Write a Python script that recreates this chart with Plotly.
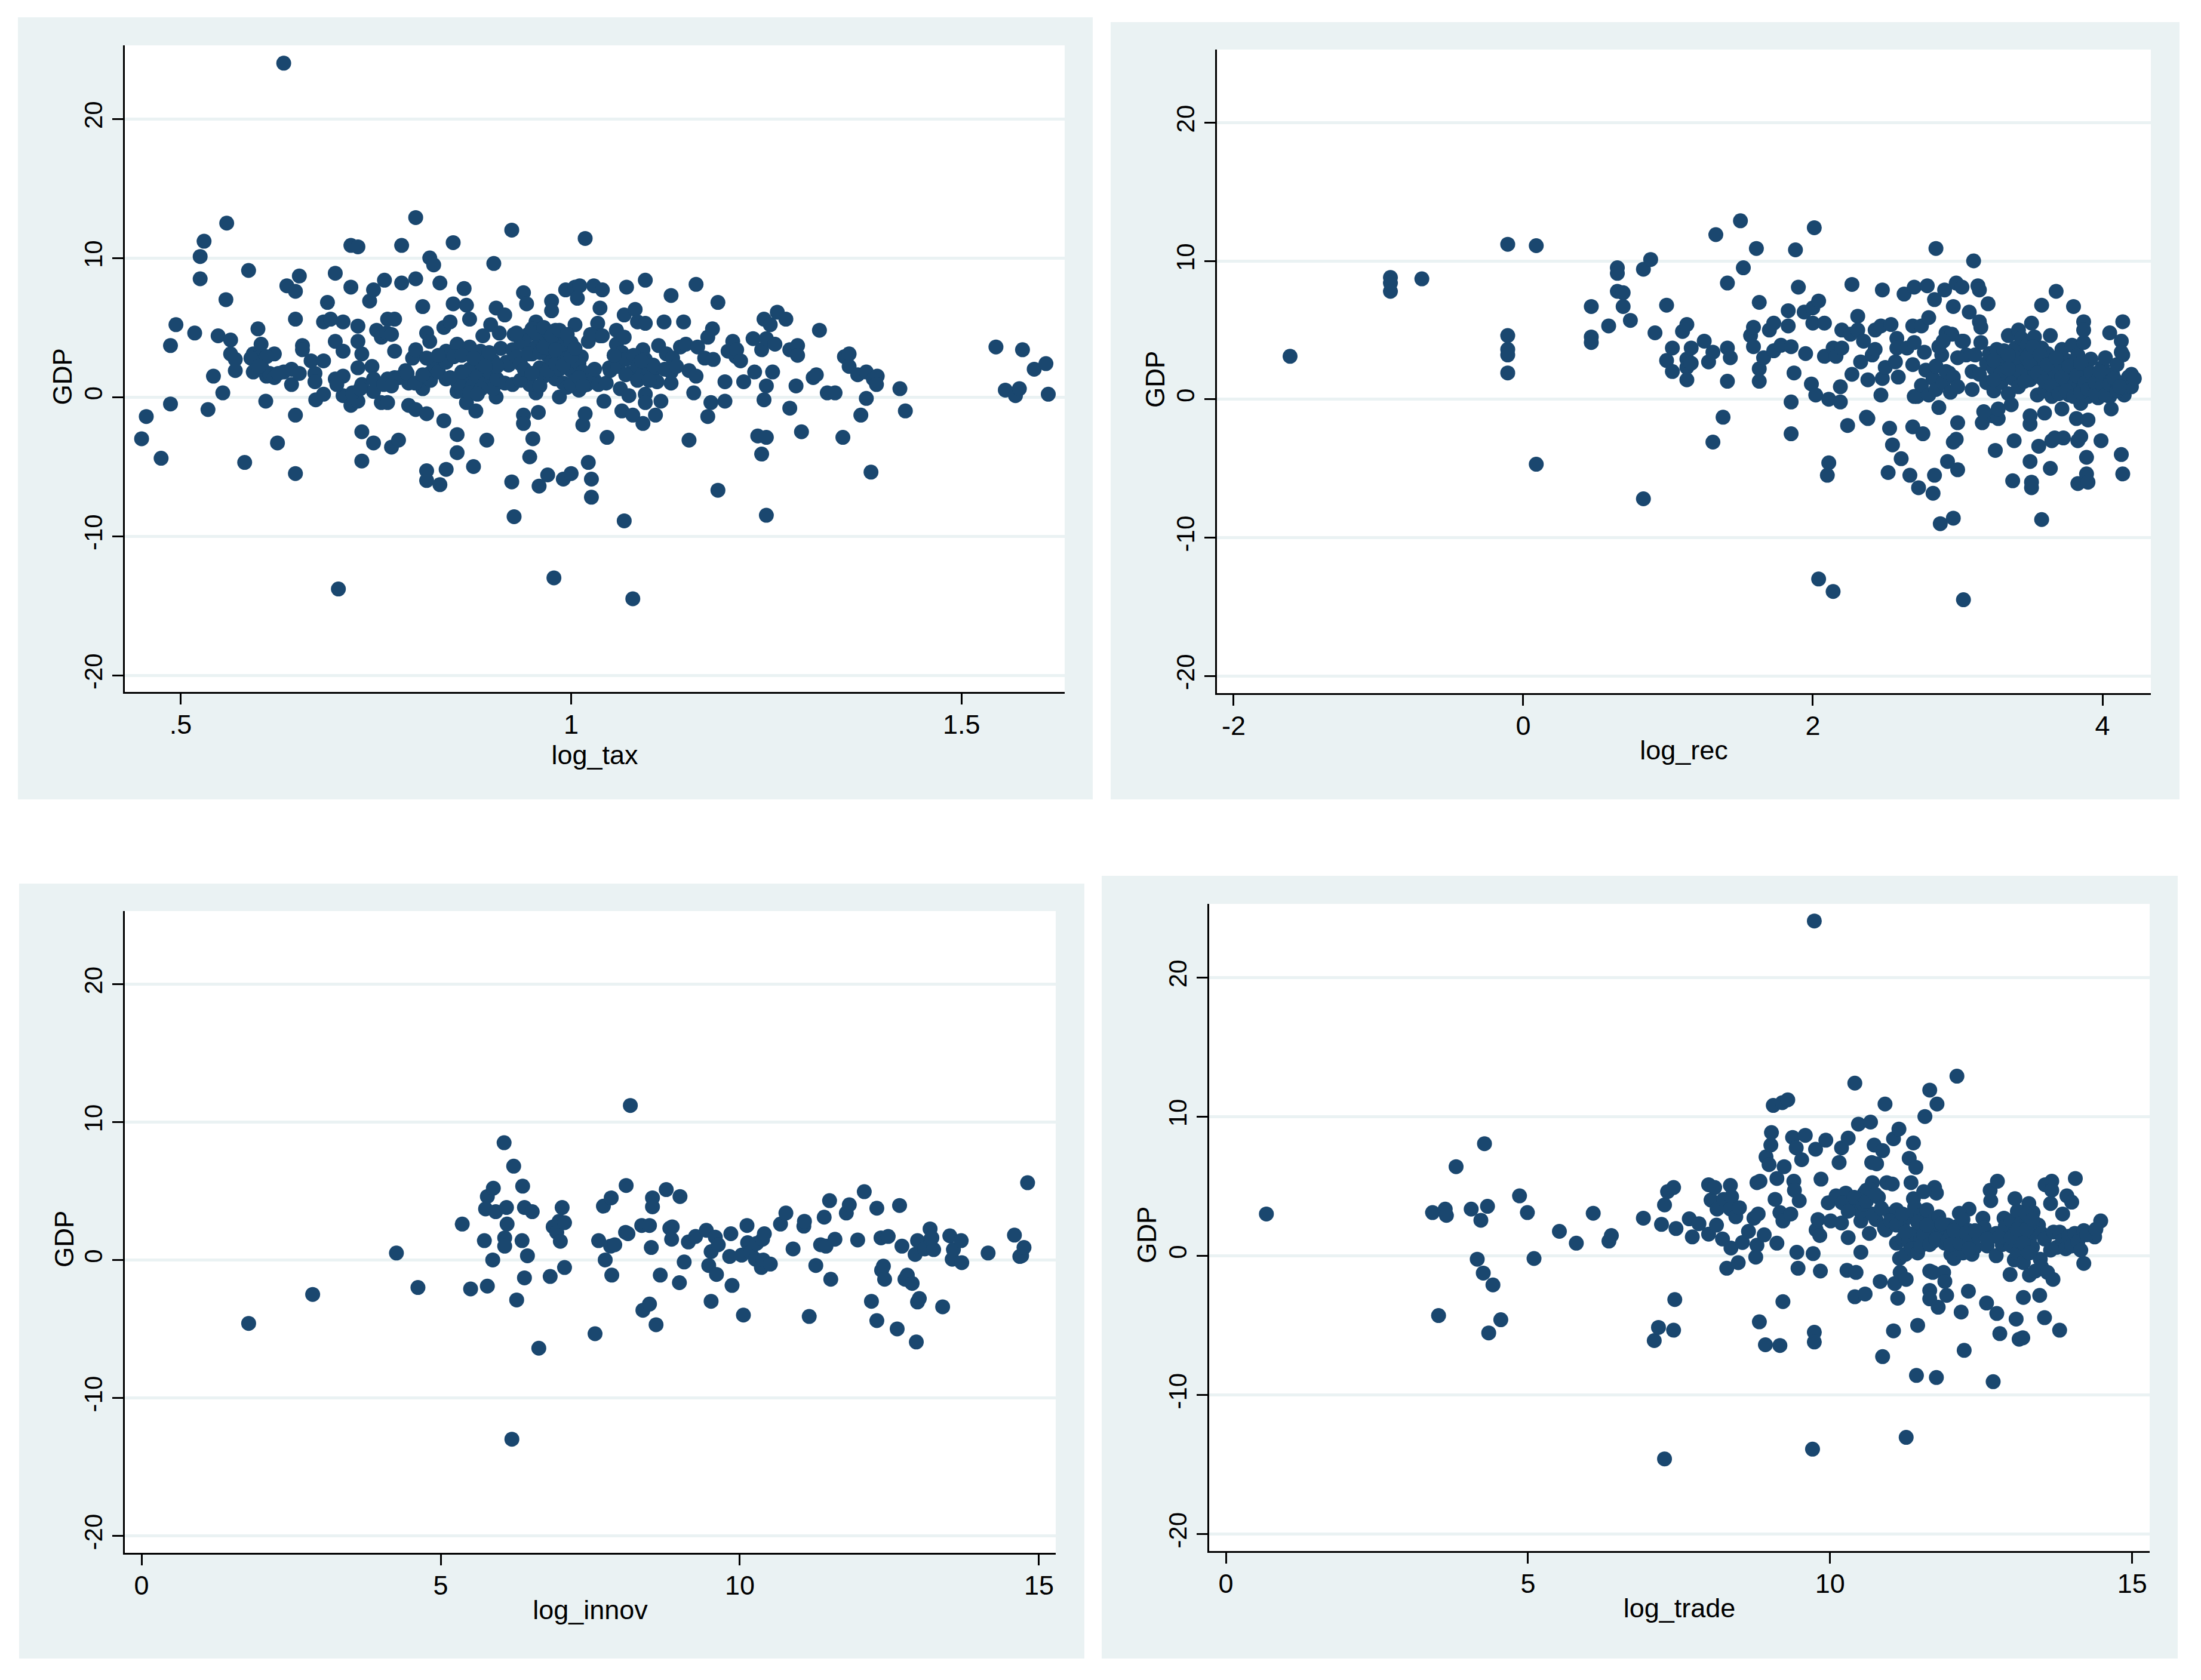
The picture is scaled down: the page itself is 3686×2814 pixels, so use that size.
import plotly.graph_objects as go

# ---------- data ----------
log_tax_pts = [(.45,-3.0),(.456,-1.4),(.475,-4.4),(.487,-.5),(.487,3.7),(.494,5.2),(.518,4.6),(.525,8.5),(.525,10.1),(.53,11.2),(.535,-.9),(.542,1.5),(.548,4.4),(.554,.3),(.558,7.0),(.559,12.5),(.564,4.1),(.564,3.1),(.57,2.7),(.57,1.9),(.582,-4.7),(.587,9.1),(.593,1.8),(.593,3.1),(.599,4.9),(.603,3.8),(.603,2.9),(.604,2.1),(.61,1.5),(.609,-.3),(.614,1.7),(.62,3.1),(.624,-3.3),(.632,1.8),(.632,24.0),(.636,8.0),(.642,2.0),(.642,.9),(.647,7.6),(.647,5.6),(.647,-1.3),(.647,-5.5),(.652,8.7),(.652,1.7),(.656,3.7),(.656,3.4),(.667,2.6),(.672,1.7),(.672,1.1),(.673,-.2),(.683,.2),(.683,2.6),(.683,5.4),(.688,6.8),(.692,5.6),(.698,8.9),(.698,4.0),(.698,1.3),(.702,-13.8),(.708,5.4),(.708,3.3),(.708,1.5),(.708,.1),(.718,10.9),(.727,10.8),(.718,7.9),(.718,-.6),(.727,5.1),(.727,4.0),(.727,2.1),(.727,-.3),(.732,3.1),(.732,-2.5),(.732,-4.6),(.732,.9),(.742,6.9),(.747,7.7),(.745,2.2),(.747,1.3),(.747,.4),(.747,-3.3),(.751,4.8),(.757,4.3),(.757,-.4),(.761,8.4),(.764,4.6),(.765,5.6),(.765,1.3),(.765,-.4),(.77,-3.6),(.77,4.5),(.774,5.6),(.774,3.3),(.774,1.4),(.779,-3.1),(.783,10.9),(.783,8.2),(.788,1.9),(.792,-.6),(.792,1.0),(.797,2.8),(.801,12.9),(.801,8.5),(.801,-.9),(.801,3.4),(.81,6.5),(.81,.6),(.815,-1.2),(.815,4.6),(.815,-5.3),(.815,-6.0),(.819,10.0),(.819,4.0),(.819,1.7),(.824,9.5),(.824,2.4),(.832,8.2),(.832,-6.3),(.837,-1.7),(.837,5.0),(.84,-5.2),(.84,1.3),(.845,5.4),(.84,3.3),(.849,11.1),(.849,6.7),(.854,-2.7),(.854,-4.0),(.854,3.8),(.854,.4),(.863,7.8),(.866,6.6),(.866,-.4),(.87,5.6),(.87,3.6),(.875,-5.0),(.878,-1.0),(.884,3.3),(.887,4.4),(.892,-3.1),(.887,1.3),(.897,5.2),(.901,9.6),(.904,6.4),(.904,0.0),(.908,4.6),(.908,1.1),(.915,5.9),(.924,12.0),(.924,-6.1),(.927,-8.6),(.927,4.5),(.917,2.5),(.936,4.0),(.939,7.5),(.943,6.7),(.939,-1.3),(.939,-1.9),(.947,-4.3),(.951,-3.0),(.955,5.4),(.955,.3),(.958,-1.1),(.959,-6.4),(.947,.9),(.97,-5.6),(.975,6.9),(.975,6.2),(.967,4.0),(.978,-13.0),(.985,4.0),(.985,0),(.99,-5.9),(.993,7.7),(1.0,-5.5),(1.005,7.9),(1.005,5.2),(1.011,8.0),(1.008,7.1),(1.013,2.9),(1.015,-2.0),(1.018,11.4),(1.018,-1.2),(1.022,-4.7),(1.026,-5.9),(1.026,-7.2),(1.022,4.0),(1.029,8.0),(1.034,5.3),(1.037,6.4),(1.04,7.7),(1.037,4.4),(1.042,-.3),(1.046,-2.9),(1.049,2.1),(1.058,4.8),(1.058,3.8),(1.063,.6),(1.065,-1.0),(1.068,-8.9),(1.068,5.9),(1.071,7.9),(1.068,4.3),(1.074,.1),(1.079,-1.3),(1.079,-14.5),(1.082,6.3),(1.085,5.4),(1.092,-1.9),(1.092,3.4),(1.095,8.4),(1.095,5.3),(1.095,.2),(1.095,-.4),(1.104,1.7),(1.108,-1.3),(1.112,3.7),(1.115,-.3),(1.119,5.4),(1.122,3.1),(1.128,7.3),(1.128,1.0),(1.128,1.8),(1.14,3.6),(1.144,5.4),(1.147,3.8),(1.151,-3.1),(1.151,1.9),(1.157,.3),(1.16,8.1),(1.16,1.5),(1.162,3.6),(1.171,2.8),(1.175,4.3),(1.175,-1.4),(1.179,-.4),(1.181,4.9),(1.182,2.7),(1.188,6.8),(1.188,-6.7),(1.197,1.1),(1.197,-.3),(1.201,3.3),(1.207,4.0),(1.211,2.9),(1.212,3.4),(1.217,2.6),(1.221,1.1),(1.233,4.2),(1.235,1.8),(1.239,-2.8),(1.244,-4.1),(1.244,3.4),(1.247,5.6),(1.247,-.2),(1.25,-2.9),(1.25,-8.5),(1.25,.8),(1.25,4.2),(1.255,5.2),(1.258,1.8),(1.261,3.8),(1.264,6.1),(1.275,5.6),(1.28,-.8),(1.28,3.4),(1.288,.8),(1.29,3.7),(1.29,3.0),(1.295,-2.5),(1.31,1.4),(1.314,1.6),(1.318,4.8),(1.328,.3),(1.338,.3),(1.348,-2.9),(1.35,2.9),(1.356,3.1),(1.356,2.2),(1.367,1.6),(1.371,-1.3),(1.378,1.8),(1.378,-.1),(1.384,-5.4),(1.387,1.3),(1.392,1.5),(1.391,.9),(1.421,.6),(1.428,-1.0),(1.544,3.6),(1.556,.5),(1.569,.1),(1.574,.6),(1.578,3.4),(1.593,2.0),(1.608,2.4),(1.611,.2),
(.86,.5),(.865,1.2),(.87,2.0),(.875,.9),(.88,1.5),(.885,2.4),(.89,1.0),(.895,1.8),(.9,.6),(.9,2.6),(.905,1.3),(.91,3.5),(.915,1.0),(.92,2.3),(.925,3.4),(.93,2.9),(.935,2.4),(.94,3.8),(.945,4.5),(.95,3.1),(.95,4.9),(.955,3.6),(.96,4.2),(.96,2.1),(.965,1.5),(.97,3.0),(.97,4.7),(.975,2.5),(.975,3.9),(.98,1.3),(.98,4.8),(.985,3.2),(.985,2.0),(.99,1.0),(.99,3.6),(.995,2.8),(.995,.7),(1.0,3.9),(1.0,1.9),(1.005,1.2),(1.01,.5),(1.01,2.4),(1.015,1.8),(1.02,.9),(1.025,4.5),(1.03,1.2),(1.035,.9),(1.04,4.4),(1.045,1.0),(1.05,1.9),(1.06,2.2),(1.065,3.2),(1.07,2.7),(1.075,1.7),(1.08,3.0),(1.085,2.2),(1.09,1.5),(1.095,2.7),(1.1,1.9),(1.105,2.3),(1.11,1.1),(.82,1.2),(.83,1.8),(.84,2.5),(.85,2.9),(.855,1.0),(.86,3.0),(.87,.3),(.78,1.4),(.79,1.7),(.8,1.0),(.81,1.6),(.76,.9),(.7,.9),(.72,.3),(.73,.6),(.77,.8),(.62,1.4),(.6,2.6),(.61,2.9),(.625,1.7),(.59,2.8),(.6,2.2),
(.93,4.6),(.925,.9),(.935,1.2),(.94,2.0),(.945,3.1),(.955,4.6),(.96,3.2),(.965,3.6),(.965,5.0),(.97,1.9),(.975,4.4),(.98,2.4),(.98,3.4),(.985,4.8),(.99,2.3),(.995,4.5),(1.0,2.9),(1.0,.9),(1.005,3.5),(1.01,1.4),(1.015,.8),(1.03,2.0),(1.055,3.0),(1.07,1.6),(1.085,1.2),(1.09,2.6),(1.1,1.2),(.875,2.8),(.885,.6),(.895,3.2),(.905,2.2),(.88,.2),(.89,2.2),(.86,1.8),(.845,1.4),(.83,3.0),(.815,2.8),(.95,1.7),(.96,.8),(1.12,2.0),(1.13,2.8),(1.135,2.2)]

log_rec_pts = [(-1.61,3.1),(-.917,8.8),(-.917,8.4),(-.917,7.8),(-.70,8.7),(-.107,11.2),(-.107,4.6),(-.107,3.6),(-.107,3.2),(-.107,1.9),(.09,11.1),(.09,-4.7),(.47,6.7),(.47,4.5),(.47,4.1),(.59,5.3),(.65,9.5),(.65,9.1),(.65,7.8),(.69,7.7),(.69,6.7),(.74,5.7),(.83,9.4),(.83,-7.2),(.88,10.1),(.91,4.8),(.99,6.8),(.99,2.8),(1.03,3.7),(1.03,2.0),(1.10,4.9),(1.13,5.4),(1.13,2.9),(1.13,2.3),(1.13,1.4),(1.16,3.7),(1.16,2.6),(1.25,4.2),(1.28,2.7),(1.31,3.4),(1.31,-3.1),(1.33,11.9),(1.38,-1.3),(1.41,8.4),(1.41,3.7),(1.41,1.3),(1.43,3.0),(1.50,12.9),(1.52,9.5),(1.57,4.6),(1.59,5.2),(1.59,3.8),(1.61,10.9),(1.63,7.0),(1.63,2.2),(1.63,1.3),(1.66,3.0),(1.70,5.0),(1.73,5.5),(1.73,3.5),(1.78,3.9),(1.83,6.4),(1.83,5.3),(1.85,3.8),(1.85,-.2),(1.85,-2.5),(1.87,1.9),(1.88,10.8),(1.90,8.1),(1.94,6.3),(1.95,3.3),(1.99,1.1),(2.0,6.6),(2.0,5.5),(2.01,12.4),(2.02,.3),(2.04,7.1),(2.04,-13.0),(2.08,5.5),(2.08,3.1),(2.10,-5.5),(2.11,-4.6),(2.11,0),(2.14,-13.9),(2.14,3.7),(2.16,3.1),(2.19,.9),(2.19,-.2),(2.20,5.0),(2.20,3.7),(2.24,-1.9),(2.26,4.7),(2.27,8.3),(2.27,1.8),(2.31,6.0),(2.31,5.0),(2.33,2.7),(2.35,4.2),(2.37,-1.3),(2.38,-1.4),(2.38,1.4),(2.41,3.2),(2.43,3.6),(2.43,5.0),(2.47,5.3),(2.48,7.9),(2.47,.3),(2.48,1.5),(2.5,2.3),(2.53,-2.1),(2.52,-5.3),(2.54,5.4),(2.55,-3.3),(2.57,2.7),(2.58,4.4),(2.58,3.7),(2.59,1.6),(2.61,-4.3),(2.63,7.6),(2.65,3.7),(2.67,-5.5),(2.69,-2.0),(2.69,5.3),(2.69,2.5),(2.70,.2),(2.70,4.1),(2.70,8.1),(2.73,-6.4),(2.75,5.3),(2.76,-2.5),(2.77,3.4),(2.79,8.2),(2.80,5.9),(2.83,-6.8),(2.84,-5.5),(2.84,7.2),(2.85,10.9),(2.87,-.6),(2.88,-9.0),(2.89,3.2),(2.91,7.9),(2.92,4.8),(2.93,-4.5),(2.94,1.9),(2.96,4.7),(2.97,6.7),(2.97,-8.6),(2.97,-3.1),(2.99,-2.9),(2.99,8.4),(3.0,-5.1),(3.0,-1.7),(3.03,8.1),(3.04,4.2),(3.04,-14.5),(3.06,3.2),(3.08,6.3),(3.10,.7),(3.11,10.0),(3.14,8.2),(3.15,7.9),(3.15,5.6),(3.16,5.2),(3.16,4.1),(3.17,-1.7),(3.21,6.9),(3.24,-1.2),(3.26,-3.7),(3.28,-1.4),(3.37,-.4),(3.38,-5.9),(3.39,-3.0),(3.5,-4.5),(3.5,-1.8),(3.51,-6.4),(3.51,-6.0),(3.51,5.5),(3.56,-3.4),(3.58,-8.7),(3.58,6.8),(3.6,-1.0),(3.64,-5.0),(3.64,4.6),(3.65,-3.0),(3.68,7.8),(3.67,-2.8),(3.73,-2.8),(3.80,6.7),(3.82,-1.4),(3.83,-3.0),(3.83,-6.1),(3.85,-2.7),(3.87,5.6),(3.87,5.0),(3.89,-4.2),(3.89,-5.4),(3.90,-6.0),(3.90,-1.5),(3.99,-3.0),(4.05,4.8),(4.06,-.7),(4.13,-4.0),(4.14,5.6),(4.14,-5.4),(4.13,4.2),(4.14,3.2),
(2.72,.2),(2.75,1.0),(2.78,2.1),(2.8,.3),(2.83,1.5),(2.85,.7),(2.85,2.4),(2.87,3.8),(2.9,1.2),(2.9,4.2),(2.92,2.0),(2.95,.5),(2.97,1.6),(3.0,3.0),(3.0,.9),(3.03,4.2),(3.1,2.0),(3.12,3.2),(3.15,1.8),(3.18,-.9),(3.2,2.6),(3.2,1.2),(3.22,3.3),(3.25,.6),(3.25,2.2),(3.27,3.6),(3.28,-.7),(3.3,1.2),(3.3,2.6),(3.32,3.5),(3.33,1.8),(3.35,.4),(3.35,4.6),(3.37,2.9),(3.38,1.5),(3.4,3.7),(3.4,2.2),(3.42,5.0),(3.42,.9),(3.44,4.4),(3.45,3.0),(3.45,1.8),(3.47,2.5),(3.48,3.9),(3.5,1.4),(3.5,3.3),(3.5,-1.2),(3.52,2.2),(3.53,4.5),(3.55,.3),(3.55,2.8),(3.57,1.6),(3.58,3.7),(3.6,.6),(3.6,2.0),(3.62,3.3),(3.62,1.2),(3.65,.2),(3.65,2.6),(3.67,1.7),(3.7,.9),(3.7,2.2),(3.72,-.7),(3.72,3.6),(3.74,1.4),(3.75,2.8),(3.77,.3),(3.77,1.9),(3.79,3.9),(3.8,1.1),(3.8,2.4),(3.82,.6),(3.83,3.2),(3.85,1.6),(3.85,-.3),(3.87,4.1),(3.87,.9),(3.88,2.1),(3.9,.2),(3.9,1.3),(3.92,2.9),(3.93,.7),(3.95,1.8),(3.97,.1),(3.97,1.1),(4.0,2.3),(4.0,.5),(4.02,3.0),(4.03,1.3),(4.05,.2),(4.07,1.8),(4.08,.8),(4.1,2.5),(4.12,1.2),(4.13,3.4),(4.15,.3),(4.15,.9),(4.18,1.6),(4.2,1.8),(4.2,.9),(4.22,1.5),
(3.4,3.0),(3.43,2.0),(3.46,1.3),(3.48,3.0),(3.5,2.6),(3.52,3.8),(3.55,1.9),(3.57,3.2),(3.6,1.3),(3.62,2.5),(3.65,1.0),(3.68,3.0),(3.7,.4),(3.72,1.6),(3.75,.6),(3.77,2.4),(3.8,.2),(3.82,1.7),(3.85,.5),(3.85,2.6),(3.88,1.2),(3.9,.7),(3.92,1.9),(3.95,.4),(3.95,1.2),(3.98,2.0),(4.0,1.0),(4.02,.3),(4.05,1.1),(4.08,1.5),(4.1,.6),(4.12,.9),(3.3,1.9),(3.35,2.2),(3.35,3.2),(3.25,1.4),(3.25,2.8)]

log_innov_pts = [(1.79,-4.6),(2.86,-2.5),(4.26,.5),(4.62,-2.0),(5.36,2.6),(5.5,-2.1),(5.73,1.4),(5.75,3.7),(5.78,4.6),(5.78,-1.9),(5.88,5.2),(5.87,0),(5.92,3.5),(6.06,8.5),(6.07,1.6),(6.07,1.0),(6.1,3.8),(6.11,2.6),(6.19,-13.0),(6.22,6.8),(6.27,-2.9),(6.36,1.4),(6.37,5.35),(6.4,3.8),(6.4,-1.3),(6.45,.3),(6.53,3.5),(6.64,-6.4),(6.83,-1.2),(6.88,2.4),(6.94,2.0),(6.98,2.8),(7.0,1.35),(7.03,3.8),(7.07,2.7),(7.07,-.55),(7.58,-5.35),(7.64,1.4),(7.72,3.9),(7.75,0),(7.84,1.0),(7.85,4.5),(7.86,-1.1),(7.91,1.1),(8.1,5.4),(8.09,2.0),(8.13,1.9),(8.17,11.2),(8.36,2.5),(8.38,-3.65),(8.49,-3.2),(8.49,2.5),(8.52,.9),(8.54,4.5),(8.54,3.85),(8.6,-4.7),(8.67,-1.1),(8.77,5.1),(8.83,2.3),(8.87,2.4),(8.86,1.5),(8.99,-1.65),(9.0,4.6),(9.07,-.15),(9.14,1.3),(9.26,1.7),(9.44,2.15),(9.48,-.4),(9.52,.6),(9.52,-3.0),(9.59,1.65),(9.61,-1.05),(9.64,1.1),(9.83,.25),(9.85,1.9),(9.87,-1.85),(10.03,.35),(10.06,-4.0),(10.12,2.5),(10.13,1.25),(10.18,.55),(10.26,.05),(10.28,1.2),(10.36,-.55),(10.38,1.5),(10.41,1.9),(10.39,0),(10.51,-.3),(10.68,2.6),(10.77,3.4),(10.89,.8),(11.07,2.45),(11.08,2.8),(11.16,-4.1),(11.27,-.4),(11.35,1.1),(11.41,3.1),(11.44,1.0),(11.5,4.3),(11.52,-1.4),(11.59,1.5),(11.78,3.4),(11.83,4.0),(11.97,1.45),(12.08,4.95),(12.2,-3.0),(12.29,-4.4),(12.29,3.75),(12.36,1.6),(12.37,-.75),(12.4,-.45),(12.42,-1.4),(12.48,1.7),(12.63,-5.0),(12.67,3.95),(12.71,1.0),(12.76,-1.4),(12.8,-1.1),(12.88,-1.7),(12.93,.4),(12.95,-5.95),(12.97,1.4),(12.97,-3.05),(13.0,-2.8),(13.09,.8),(13.18,2.25),(13.19,1.5),(13.24,.75),(13.21,1.6),(13.39,-3.4),(13.51,1.75),(13.55,.05),(13.57,.75),(13.7,1.4),(13.71,-.2),(14.15,.5),(14.59,1.8),(14.68,.25),(14.71,.3),(14.75,.9),(14.81,5.6)]

log_trade_pts = [(.67,3.0),(3.42,3.1),(3.52,-4.3),(3.63,3.35),(3.65,2.9),(3.81,6.4),(4.06,3.35),(4.16,-.25),(4.22,2.55),(4.26,-1.25),(4.28,8.05),(4.33,3.55),(4.35,-5.55),(4.42,-2.1),(4.55,-4.6),(4.86,4.3),(4.99,3.1),(5.1,-.2),(5.52,1.75),(5.8,.9),(6.08,3.05),(6.34,1.05),(6.38,1.45),(6.91,2.7),(7.09,-6.1),(7.16,-5.15),(7.21,2.25),(7.26,3.65),(7.26,-14.6),(7.31,4.6),(7.41,4.9),(7.41,-5.35),(7.43,-3.15),(7.45,1.95),(7.67,2.65),(7.72,1.35),(7.83,2.3),(7.99,1.55),(7.99,5.1),(8.03,4.0),(8.09,4.9),(8.13,3.35),(8.12,2.2),(8.22,1.2),(8.24,4.05),(8.29,-.9),(8.35,5.05),(8.35,3.35),(8.36,.55),(8.37,4.25),(8.44,2.8),(8.48,-.5),(8.5,3.45),(8.55,.95),(8.65,1.75),(8.74,2.7),(8.77,-.1),(8.79,5.25),(8.79,.75),(8.81,3.0),(8.83,-4.75),(8.84,5.35),(8.91,1.5),(8.93,-6.4),(8.94,7.1),(8.99,6.55),(9.02,7.95),(9.03,8.85),(9.06,10.8),(9.09,4.05),(9.12,5.55),(9.12,.9),(9.17,-6.45),(9.17,3.1),(9.21,11.0),(9.3,11.2),(9.22,-3.3),(9.22,2.5),(9.24,6.4),(9.35,3.0),(9.38,8.5),(9.4,5.35),(9.41,4.7),(9.44,7.75),(9.47,-.9),(9.45,.25),(9.49,3.95),(9.53,6.9),(9.59,8.65),(9.71,-13.9),(9.72,.15),(9.74,-5.5),(9.74,24.05),(9.74,-6.2),(9.76,7.65),(9.77,1.85),(9.8,2.6),(9.83,1.45),(9.84,-1.1),(9.85,5.5),(9.93,8.3),(9.97,3.8),(10.01,2.5),(10.1,4.3),(10.15,6.7),(10.19,7.75),(10.19,2.35),(10.26,4.5),(10.28,-1.05),(10.3,1.3),(10.3,8.45),(10.37,3.45),(10.41,12.4),(10.41,-2.95),(10.43,-1.2),(10.47,9.45),(10.51,.25),(10.51,2.5),(10.58,-2.75),(10.57,4.5),(10.65,1.6),(10.67,9.6),(10.7,5.25),(10.69,6.7),(10.73,7.95),(10.76,2.6),(10.77,6.6),(10.83,-1.85),(10.87,-7.25),(10.87,7.55),(10.91,10.9),(10.94,5.25),(10.92,1.85),(11.03,5.15),(11.05,8.4),(11.05,-5.4),(11.07,-2.0),(11.12,-3.05),(11.14,9.1),(11.1,.9),(11.16,-1.2),(11.26,-13.05),(11.26,-1.7),(11.31,7.0),(11.34,5.25),(11.42,6.35),(11.43,-8.6),(11.45,-5.0),(11.38,8.1),(11.38,4.1),(11.57,10.0),(11.65,11.9),(11.65,-1.1),(11.65,-2.5),(11.65,-3.1),(11.7,-1.2),(11.77,10.9),(11.76,-8.75),(11.73,4.9),(11.76,4.5),(11.79,-3.7),(11.88,-1.2),(11.9,-1.85),(11.93,-2.85),(12.1,12.9),(12.17,-4.05),(12.22,-6.8),(12.29,-2.55),(12.3,3.35),(12.14,3.05),(12.53,2.7),(12.59,-3.4),(12.65,4.7),(12.66,3.95),(12.7,-9.05),(12.76,-4.15),(12.77,5.35),(12.81,-5.6),(12.88,2.7),(12.98,-1.35),(13.06,4.1),(13.08,-4.55),(13.13,-6.0),(13.19,-5.9),(13.2,-3.0),(13.29,3.75),(13.36,3.1),(13.47,-2.85),(13.48,-.25),(13.55,-4.45),(13.56,5.1),(13.67,5.35),(13.67,4.7),(13.65,3.75),(13.69,-1.7),(13.8,-5.35),(13.85,3.0),(13.92,4.3),(14.0,3.85),(14.06,5.55),(14.2,-.55),(14.38,1.35),(14.48,2.5),
(10.5,3.2),(10.6,4.7),(10.7,3.0),(10.8,4.2),(10.9,2.0),(11,3.0),(11.1,3.3),(11.15,-.2),(11.2,2.3),(11.2,1.2),(11.25,.1),(11.3,2.8),(11.3,1.0),(11.35,.5),(11.4,3.5),(11.4,1.6),(11.45,.2),(11.5,2.9),(11.5,1.2),(11.55,4.6),(11.55,2.0),(11.6,.9),(11.6,3.3),(11.65,1.6),(11.7,2.5),(11.7,1.0),(11.75,1.9),(11.8,2.8),(11.8,1.3),(11.85,1.7),(11.9,.9),(11.95,2.2),(12,.1),(12,1.5),(12.05,-.2),(12.05,1.0),(12.1,2.1),(12.1,.5),(12.15,1.4),(12.2,.2),(12.2,2.6),(12.25,.9),(12.3,1.8),(12.35,.1),(12.35,1.2),(12.4,.6),(12.45,1.5),(12.55,2.0),(12.6,.7),(12.7,1.4),(12.75,.0),(12.75,1.6),(12.85,.8),(12.9,2.1),(12.95,1.3),(13,.7),(13,2.5),(13.05,-.3),(13.05,1.6),(13.1,.2),(13.1,3.2),(13.15,1.0),(13.15,2.3),(13.2,-.5),(13.2,1.6),(13.25,.4),(13.25,3.0),(13.3,1.1),(13.3,2.1),(13.3,-1.4),(13.35,.6),(13.35,1.7),(13.4,-1.1),(13.45,2.2),(13.5,1.6),(13.5,-.8),(13.55,1.2),(13.6,-1.2),(13.65,.4),(13.7,1.7),(13.75,.6),(13.8,1.7),(13.85,1.1),(13.9,.5),(13.95,1.4),(14,.7),(14.05,1.6),(14.1,1.0),(14.15,.4),(14.2,1.8),(14.25,1.5),(14.4,1.9),
(10.2,3.8),(10.3,3.2),(10.4,4.2),(10.55,3.7),(10.6,3.9),(10.65,4.8),(10.75,4.4),(10.85,3.4),(11.0,2.5),(11.1,2.2),(11.2,3.0),(11.25,1.7),(11.45,2.4),(11.5,.7),(11.55,1.5),(11.6,2.2),(11.65,.8),(11.75,1.2),(11.85,2.3),(11.95,1.1),(12.0,.8),(12.05,1.8),(12.15,.9),(12.25,1.6),(12.3,.5),(12.4,1.8),(12.6,1.2),(12.8,1.3),(13.0,1.3),(13.1,1.9),(13.2,.9),(13.25,1.9),(13.3,.2),(13.35,2.6)]

y_tickvals = [-20, -10, 0, 10, 20]
y_ticktext = ["-20", "-10", "0", "10", "20"]
y_title = "GDP"

# ---------- layout constants, in reference pixels ----------
W, H = 3686, 2814
PAGE_OFFSET = 8   # the page body margin moves the figure by this much
NAVY = "#1A476F"
PANEL = "#EAF2F3"
FONT = "Liberation Sans"

panels = [
    dict(name="log_tax", pts=log_tax_pts, tv=[.5, 1, 1.5], tt=[".5", "1", "1.5"],
         outer=(30, 29, 1830, 1339), plot=(209, 76, 1783, 1159),
         xr=(.4285, 1.632), yr=(-21.2, 25.28), ylab=(104.5, 631)),
    dict(name="log_rec", pts=log_rec_pts, tv=[-2, 0, 2, 4], tt=["-2", "0", "2", "4"],
         outer=(1860, 37, 3650, 1339), plot=(2038, 83, 3602, 1161),
         xr=(-2.115, 4.334), yr=(-21.25, 25.28), ylab=(1934, 636)),
    dict(name="log_innov", pts=log_innov_pts, tv=[0, 5, 10, 15], tt=["0", "5", "10", "15"],
         outer=(32, 1480, 1816, 2778), plot=(209, 1526, 1768, 2601),
         xr=(-.28, 15.28), yr=(-21.24, 25.3), ylab=(107, 2076)),
    dict(name="log_trade", pts=log_trade_pts, tv=[0, 5, 10, 15], tt=["0", "5", "10", "15"],
         outer=(1845, 1467, 3647, 2778), plot=(2025, 1514, 3600, 2598),
         xr=(-.277, 15.29), yr=(-21.22, 25.28), ylab=(1920, 2069)),
]


def fx(px):
    return (px - PAGE_OFFSET) / W


def fy(py):
    return 1 - (py - PAGE_OFFSET) / H


fig = go.Figure()
layout = dict(width=W, height=H, autosize=False, showlegend=False,
              margin=dict(l=0, r=0, t=0, b=0, pad=0),
              paper_bgcolor="white", plot_bgcolor="white",
              font=dict(family=FONT, color="black"), shapes=[], annotations=[])

for i, p in enumerate(panels, start=1):
    x0, y0, x1, y1 = p["outer"]
    layout["shapes"].append(dict(type="rect", xref="paper", yref="paper", layer="below",
                                 x0=fx(x0), x1=fx(x1), y0=fy(y1), y1=fy(y0),
                                 fillcolor=PANEL, line=dict(width=0)))
    px0, py0, px1, py1 = p["plot"]
    layout["shapes"].append(dict(type="rect", xref="paper", yref="paper", layer="below",
                                 x0=fx(px0), x1=fx(px1), y0=fy(py1), y1=fy(py0),
                                 fillcolor="white", line=dict(width=0)))
    xs = [a for a, _ in p["pts"]]
    ys = [b for _, b in p["pts"]]
    fig.add_trace(go.Scatter(x=xs, y=ys, mode="markers", name=p["name"], xaxis=f"x{i}", yaxis=f"y{i}",
                             marker=dict(color=NAVY, size=25, line=dict(width=0)),
                             cliponaxis=False))
    xkey = "xaxis" if i == 1 else f"xaxis{i}"
    ykey = "yaxis" if i == 1 else f"yaxis{i}"
    layout[xkey] = dict(domain=[fx(px0), fx(px1)], range=list(p["xr"]), anchor=f"y{i}",
                        tickmode="array", tickvals=p["tv"], ticktext=p["tt"], ticks="outside",
                        ticklen=18, tickwidth=3, tickcolor="black", showline=True, linecolor="black",
                        linewidth=3, showgrid=False, zeroline=False, tickfont=dict(size=45, family=FONT),
                        ticklabelstandoff=-5,
                        title=dict(text=p["name"], font=dict(size=45, family=FONT), standoff=1))
    layout[ykey] = dict(domain=[fy(py1), fy(py0)], range=list(p["yr"]), anchor=f"x{i}",
                        tickmode="array", tickvals=y_tickvals, ticktext=y_ticktext, ticks="outside",
                        ticklen=18, tickwidth=3, tickcolor="black", showline=True, linecolor="black",
                        linewidth=3, showgrid=True, gridcolor=PANEL, gridwidth=5, zeroline=False,
                        tickangle=-90, tickfont=dict(size=42, family=FONT))
    lx, ly = p["ylab"]
    layout["annotations"].append(dict(text=y_title, xref="paper", yref="paper", x=fx(lx), y=fy(ly),
                                      xanchor="center", yanchor="middle", showarrow=False, textangle=-90,
                                      font=dict(size=44, family=FONT, color="black")))

fig.update_layout(**layout)
fig.write_html("out.html")
